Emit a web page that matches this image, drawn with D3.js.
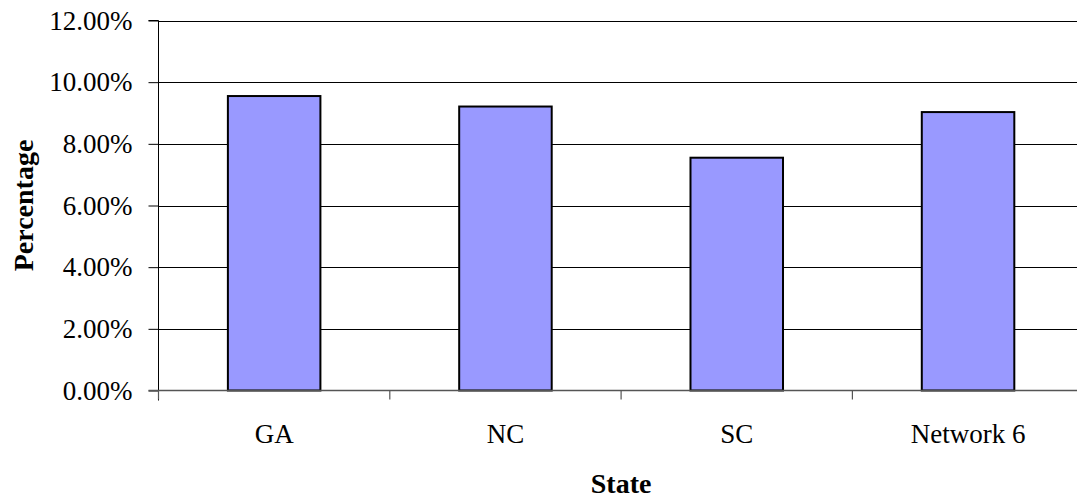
<!DOCTYPE html>
<html>
<head>
<meta charset="utf-8">
<script src="https://cdn.jsdelivr.net/npm/d3@7"></script>
<style>
  html, body { margin: 0; padding: 0; background: #fff; }
  svg { display: block; }
  text { font-family: "Liberation Serif", "Times New Roman", serif; }
</style>
</head>
<body>
<svg id="chart" width="1077" height="500"></svg>
<script>
// Share by state
const states = ["GA", "NC", "SC", "Network 6"];
const shares = [0.0955, 0.0921, 0.0755, 0.0903];
const yTicks = [0, 0.02, 0.04, 0.06, 0.08, 0.10, 0.12];

const svg = d3.select("#chart");
const plotLeft = 158.5, plotTop = 20.5, plotBottom = 390.5;
const bandW = 231.3;
const plotRight = plotLeft + bandW * states.length;

const x = d3.scaleBand().domain(states).range([plotLeft, plotRight]).paddingInner(0.6).paddingOuter(0.3);
const y = d3.scaleLinear().domain([0, 0.12]).range([plotBottom, plotTop]);

// horizontal gridlines
svg.append("g")
  .selectAll("line")
  .data(yTicks.filter(d => d > 0))
  .join("line")
  .attr("x1", plotLeft).attr("x2", plotRight)
  .attr("y1", d => Math.round(y(d)) + 0.5).attr("y2", d => Math.round(y(d)) + 0.5)
  .attr("stroke", "#000").attr("stroke-width", 1);

// bars
svg.append("g")
  .selectAll("rect")
  .data(states.map((s, i) => ({ s, v: shares[i] })))
  .join("rect")
  .attr("x", d => x(d.s))
  .attr("width", x.bandwidth())
  .attr("y", d => y(d.v))
  .attr("height", d => y(0) - y(d.v))
  .attr("fill", "#9999FF")
  .attr("stroke", "#000")
  .attr("stroke-width", 2);

// y axis
const yAxis = d3.axisLeft(y)
  .tickValues(yTicks)
  .tickFormat(d3.format(".2%"))
  .tickSize(10)
  .tickPadding(16);
const ya = svg.append("g").attr("transform", `translate(${plotLeft},0)`).call(yAxis);
ya.attr("font-size", null).attr("font-family", null);
ya.select(".domain").attr("stroke", "#000").attr("d", `M-10,${plotTop}H0V${plotBottom + 10}`);
ya.selectAll(".tick line").attr("stroke", "#000");
ya.selectAll(".tick text")
  .style("font-size", "27px").attr("fill", "#000");

// x axis with ticks on band boundaries
const xa = svg.append("g").attr("transform", `translate(0,${plotBottom})`);
xa.append("line").attr("x1", plotLeft - 10).attr("x2", plotRight).attr("y1", 0).attr("y2", 0)
  .attr("stroke", "#555").attr("stroke-width", 1.5);
xa.selectAll("line.tk")
  .data(d3.range(states.length + 1))
  .join("line").attr("class", "tk")
  .attr("x1", i => plotLeft + i * bandW).attr("x2", i => plotLeft + i * bandW)
  .attr("y1", 0).attr("y2", 9)
  .attr("stroke", "#555").attr("stroke-width", 1.2);
xa.selectAll("text")
  .data(states)
  .join("text")
  .attr("x", d => x(d) + x.bandwidth() / 2)
  .attr("y", 52)
  .attr("text-anchor", "middle")
  .style("font-size", "27px")
  .attr("fill", "#000")
  .text(d => d);

// axis titles
svg.append("text")
  .attr("x", (plotLeft + plotRight) / 2).attr("y", 493)
  .attr("text-anchor", "middle")
  .style("font-size", "28px").attr("font-weight", "bold")
  .text("State");

svg.append("text")
  .attr("transform", `translate(33,${(plotTop + plotBottom) / 2}) rotate(-90)`)
  .attr("text-anchor", "middle")
  .style("font-size", "28px").attr("font-weight", "bold")
  .text("Percentage");
</script>
</body>
</html>
